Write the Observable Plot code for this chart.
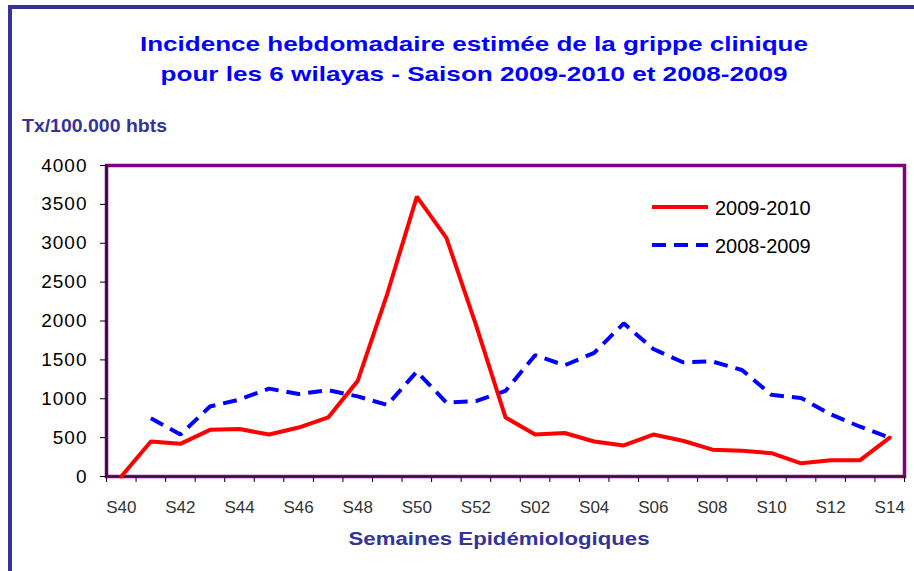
<!DOCTYPE html>
<html>
<head>
<meta charset="utf-8">
<script src="https://cdn.jsdelivr.net/npm/d3@7"></script>
<script src="https://cdn.jsdelivr.net/npm/@observablehq/plot@0.6"></script>
<style>
  html, body { margin: 0; padding: 0; background: #fff; }
  #wrap { position: relative; width: 914px; height: 571px; overflow: hidden; background: #fff;
          font-family: Arial, "Liberation Sans", sans-serif; }
  #border { position: absolute; left: 8px; top: 5px; right: -20px; bottom: -20px;
            border-left: 4px solid #333399; border-top: 4px solid #333399; }
  #chart { position: absolute; left: 0; top: 0; }
  #overlay { position: absolute; left: 0; top: 0; pointer-events: none; }
  #chart g[aria-label="y-axis tick label"] text { letter-spacing: 1px; }
</style>
</head>
<body>
<div id="wrap">
  <div id="border"></div>
  <div id="chart"></div>
  <svg id="overlay" width="914" height="571" font-family="Arial, 'Liberation Sans', sans-serif">
    <text x="474" y="51" text-anchor="middle" font-size="21" font-weight="bold" fill="#0000FF" textLength="668" lengthAdjust="spacingAndGlyphs">Incidence hebdomadaire estimée de la grippe clinique</text>
    <text x="474" y="81" text-anchor="middle" font-size="21" font-weight="bold" fill="#0000FF" textLength="627" lengthAdjust="spacingAndGlyphs">pour les 6 wilayas - Saison 2009-2010 et 2008-2009</text>
    <text x="22" y="132" font-size="19" font-weight="bold" fill="#333399" textLength="145" lengthAdjust="spacingAndGlyphs">Tx/100.000 hbts</text>
    <text x="499" y="545" text-anchor="middle" font-size="19" font-weight="bold" fill="#333399" textLength="301" lengthAdjust="spacingAndGlyphs">Semaines Epidémiologiques</text>
    <g id="legend"></g>
  </svg>
</div>
<script>
// ---- data ----
const weeks = ["S40","S41","S42","S43","S44","S45","S46","S47","S48","S49","S50","S51","S52",
               "S01","S02","S03","S04","S05","S06","S07","S08","S09","S10","S11","S12","S13","S14"];
const season2009_2010 = [0, 450, 420, 600, 610, 540, 630, 760, 1230, 2350, 3600, 3070, 1950,
                         760, 540, 560, 450, 400, 540, 460, 345, 330, 300, 170, 210, 210, 500];
const season2008_2009 = [null, 750, 540, 900, 990, 1130, 1060, 1110, 1030, 920, 1350, 950, 970,
                         1100, 1560, 1430, 1590, 1970, 1640, 1470, 1480, 1370, 1050, 1010, 800, 640, 500];
const seriesNames = ["2009-2010", "2008-2009"];
const seriesColors = ["#FF0000", "#0000FF"];
const xTickLabels = ["S40","S42","S44","S46","S48","S50","S52","S02","S04","S06","S08","S10","S12","S14"];
const yTicks = [0, 500, 1000, 1500, 2000, 2500, 3000, 3500, 4000];

const rows = [];
weeks.forEach((w, i) => {
  rows.push({week: w, season: seriesNames[0], value: season2009_2010[i]});
  if (season2008_2009[i] != null) rows.push({week: w, season: seriesNames[1], value: season2008_2009[i]});
});

const W = 914, H = 571, mL = 106, mR = 10, mT = 165, mB = 95;
const step = (W - mL - mR) / weeks.length;

const chart = Plot.plot({
  width: W, height: H,
  marginLeft: mL, marginRight: mR, marginTop: mT, marginBottom: mB,
  style: {background: "transparent", fontFamily: "Arial, 'Liberation Sans', sans-serif", overflow: "visible"},
  x: {type: "point", domain: weeks, padding: 0.5, align: 0.5, round: false},
  y: {domain: [0, 4000]},
  marks: [
    Plot.frame({stroke: "#800080", strokeWidth: 3.5}),
    Plot.axisY({ticks: yTicks, tickSize: 6, tickPadding: 13, fontSize: 19, fill: "#000", stroke: "#000", label: null, anchor: "left", tickFormat: d => String(d)}),
    Plot.axisX({ticks: weeks, tickSize: 6, tickFormat: () => "", dx: -step / 2, label: null, anchor: "bottom", stroke: "#000"}),
    Plot.axisX({ticks: [weeks[weeks.length - 1]], tickSize: 6, tickFormat: () => "", dx: step / 2, label: null, anchor: "bottom", stroke: "#000"}),
    Plot.axisX({ticks: xTickLabels, tickSize: 0, tickPadding: 24, fontSize: 17, fill: "#333", label: null, anchor: "bottom"}),
    Plot.ruleX([weeks[0]], {dx: -step / 2, stroke: "#3d003d", strokeWidth: 1.5}),
    Plot.ruleY([0], {stroke: "#4a004a", strokeWidth: 1.2}),
    Plot.line(rows.filter(d => d.season === seriesNames[1]), {x: "week", y: "value", stroke: seriesColors[1], strokeWidth: 4, strokeDasharray: "14,8", strokeLinecap: "butt", strokeLinejoin: "miter"}),
    Plot.line(rows.filter(d => d.season === seriesNames[0]), {x: "week", y: "value", stroke: seriesColors[0], strokeWidth: 4, strokeLinejoin: "miter"})
  ]
});
document.getElementById("chart").appendChild(chart);

// legend
const lg = d3.select("#legend");
const legendY = [207, 245];
seriesNames.forEach((name, i) => {
  lg.append("line").attr("x1", 652).attr("x2", 708).attr("y1", legendY[i]).attr("y2", legendY[i])
    .attr("stroke", seriesColors[i]).attr("stroke-width", 4)
    .attr("stroke-dasharray", i === 1 ? "14,8" : null);
  lg.append("text").attr("x", 715).attr("y", legendY[i] + 7.5).attr("font-size", 20).attr("fill", "#000").text(name);
});
</script>
</body>
</html>
